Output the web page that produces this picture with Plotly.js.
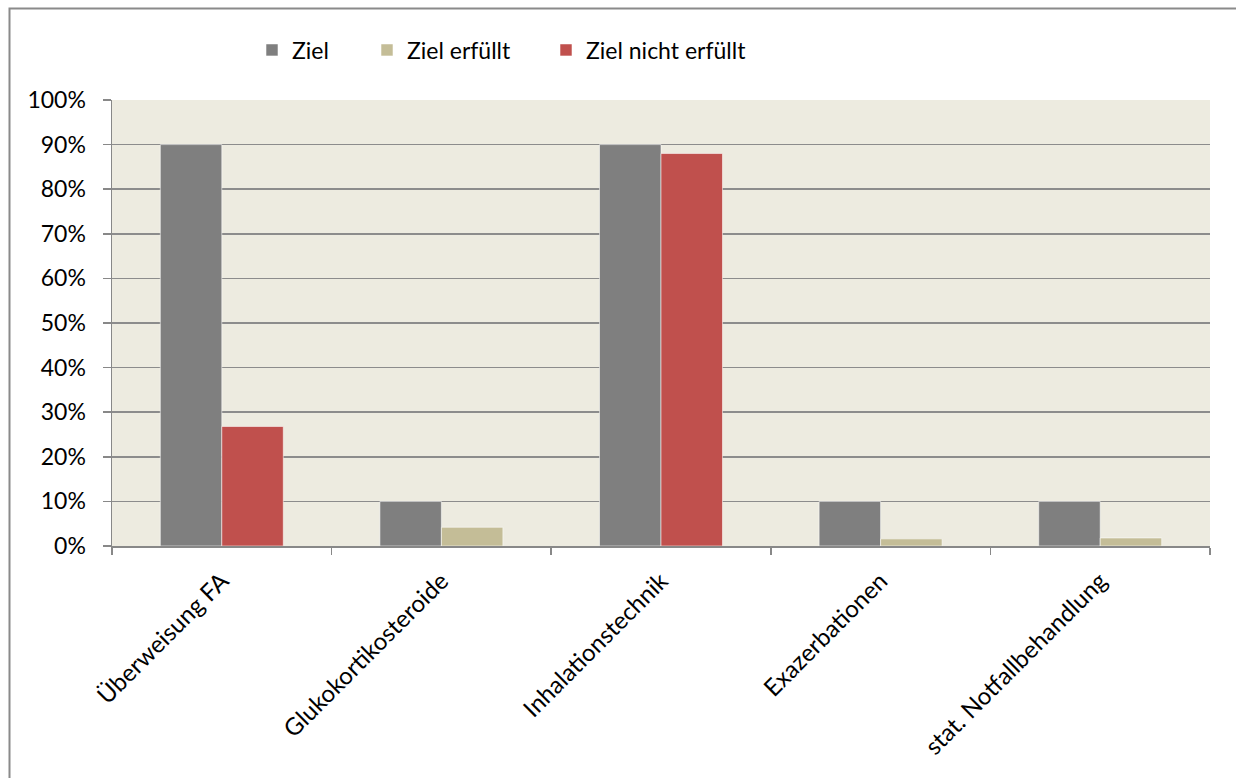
<!DOCTYPE html>
<html>
<head>
<meta charset="utf-8">
<script src="https://cdn.plot.ly/plotly-3.0.1.min.js"></script>
<style>html,body{margin:0;padding:0;background:#fff;}#chart{width:1236px;height:778px;}</style>
</head>
<body>
<div id="chart"></div>
<script>
var categories = ["Überweisung FA", "Glukokortikosteroide", "Inhalationstechnik", "Exazerbationen", "stat. Notfallbehandlung"];
var ziel = [90, 10, 90, 10, 10];
var zielErfuellt = [null, 4.2, null, 1.6, 1.8];
var zielNichtErfuellt = [26.8, null, 88, null, null];
var seriesNames = ["Ziel", "Ziel erfüllt", "Ziel nicht erfüllt"];
var tickVals = [0, 10, 20, 30, 40, 50, 60, 70, 80, 90, 100];
var tickLabels = ["0%", "10%", "20%", "30%", "40%", "50%", "60%", "70%", "80%", "90%", "100%"];

var W = 1236, H = 778;
var L = 112, R = 1210, T = 100, B = 546;
var fontFam = "Lato, 'Open Sans', sans-serif";
var edge = {color: 'rgba(255,255,255,0.55)', width: 1};

var traces = [
  {type: 'bar', name: seriesNames[0], x: categories, y: ziel, offsetgroup: 'a',
   marker: {color: '#7F7F7F', line: edge}, legend: 'legend', hoverinfo: 'y'},
  {type: 'bar', name: seriesNames[1], x: categories, y: zielErfuellt, offsetgroup: 'b',
   marker: {color: '#C4BD97', line: edge}, legend: 'legend2', hoverinfo: 'y'},
  {type: 'bar', name: seriesNames[2], x: categories, y: zielNichtErfuellt, offsetgroup: 'b',
   marker: {color: '#C0504D', line: edge}, legend: 'legend3', hoverinfo: 'y'}
];

function px2paperX(p){ return (p - L) / (R - L); }
function px2paperY(p){ return (B - p) / (B - T); }

function leg(xpx){
  return {orientation: 'h', xref: 'container', yref: 'container',
    x: xpx / W, y: 1 - 50 / H, xanchor: 'left', yanchor: 'middle',
    font: {family: fontFam, size: 23, color: '#000'}, bgcolor: 'rgba(0,0,0,0)'};
}

var layout = {
  width: W, height: H,
  margin: {l: L, r: W - R, t: T, b: H - B, pad: 0},
  paper_bgcolor: '#FFFFFF',
  plot_bgcolor: '#EDEBE0',
  barmode: 'group',
  bargap: 0.44,
  bargroupgap: 0,
  font: {family: fontFam, size: 23, color: '#000'},
  showlegend: true,
  legend: leg(252),
  legend2: leg(367),
  legend3: leg(546),
  xaxis: {
    type: 'category', tickangle: -45, tickson: 'boundaries',
    ticks: 'outside', ticklen: 7, tickcolor: '#888', tickwidth: 1.5,
    showline: true, linecolor: '#888', linewidth: 1.5,
    showgrid: false, zeroline: false, ticklabelstandoff: 10,
    tickfont: {family: fontFam, size: 24, color: '#000'}
  },
  yaxis: {
    range: [0, 100], tickmode: 'array', tickvals: tickVals, ticktext: tickLabels,
    ticks: 'outside', ticklen: 8, tickcolor: '#888', tickwidth: 1.5,
    showline: true, linecolor: '#888', linewidth: 1.5,
    showgrid: true, gridcolor: '#8C8C8C', gridwidth: 1.5,
    zeroline: false, ticklabelstandoff: 12,
    tickfont: {family: fontFam, size: 23, color: '#000'}
  },
  shapes: [
    {type: 'rect', xref: 'paper', yref: 'paper',
     x0: px2paperX(9.5), x1: px2paperX(1245), y0: px2paperY(790), y1: px2paperY(8.5),
     line: {color: '#8A8A8A', width: 2}, fillcolor: 'rgba(0,0,0,0)', layer: 'below'}
  ]
};

Plotly.newPlot('chart', traces, layout, {displayModeBar: false, staticPlot: true});
</script>
</body>
</html>
